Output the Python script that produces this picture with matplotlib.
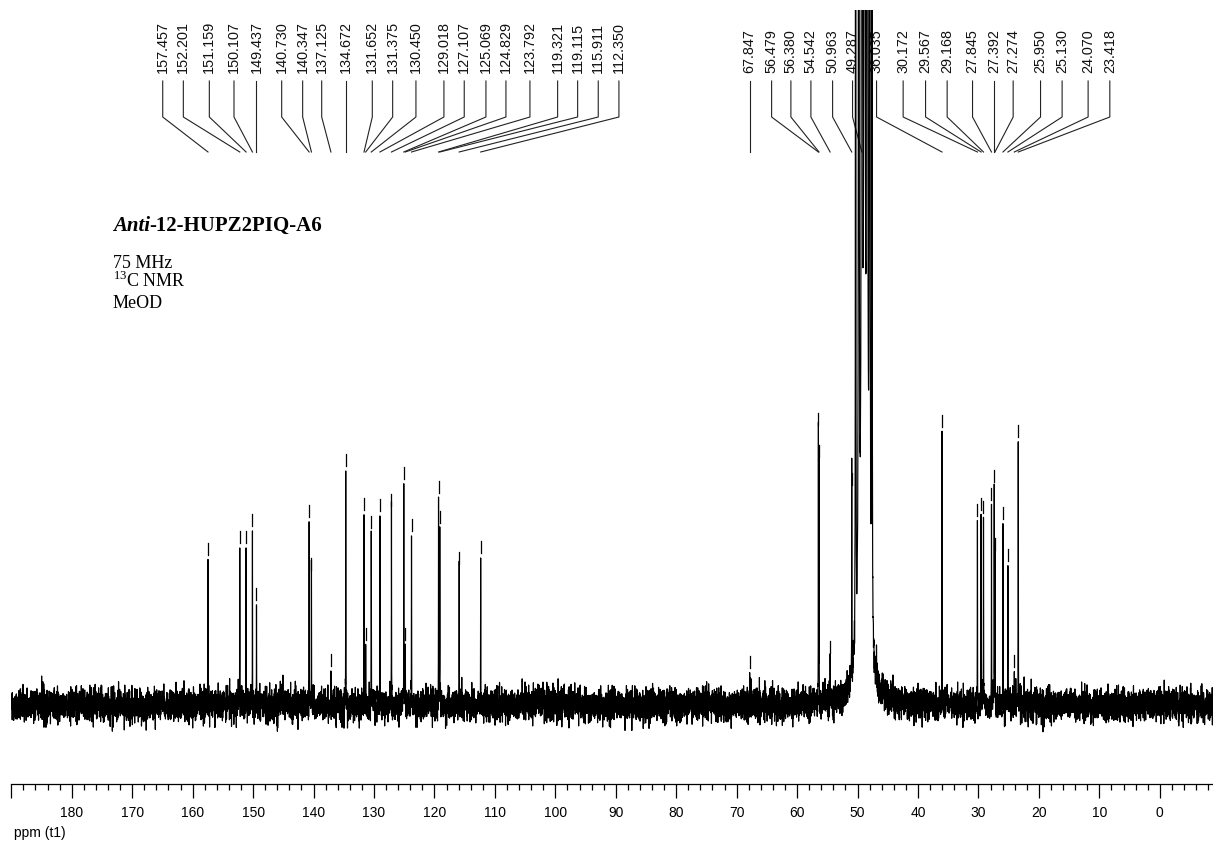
import numpy as np
import matplotlib.pyplot as plt
from matplotlib.ticker import MultipleLocator

plt.rcParams['font.family'] = ['Liberation Sans', 'DejaVu Sans']
plt.rcParams['mathtext.fontset'] = 'custom'
plt.rcParams['mathtext.rm'] = 'Liberation Serif'

# picked 13C shifts [ppm] and their heights above the baseline
shifts = [157.457, 152.201, 151.159, 150.107, 149.437, 140.730, 140.347, 137.125,
          134.672, 131.652, 131.375, 130.450, 129.018, 127.107, 125.069, 124.829,
          123.792, 119.321, 119.115, 115.911, 112.350,
          67.847, 56.479, 56.380, 54.542, 50.963, 36.035, 30.172, 29.567, 29.168,
          27.845, 27.392, 27.274, 25.950, 25.130, 24.070, 23.418]
heights = [145, 157, 157, 174, 100, 183, 130, 34,
           234, 190, 60, 172, 189, 194, 221, 60,
           169, 207, 177, 136, 147,
           32, 275, 243, 47, 215, 273, 184, 190, 187,
           200, 218, 150, 181, 139, 33, 263]

# MeOD solvent multiplet (off scale) and its broad foot
solvent_shifts = [50.32, 49.80, 49.287, 48.85, 48.42, 48.00, 47.62]
solvent_rel = [1, 3, 6, 7, 6, 3, 1]
solvent_scale = 8000
foot_center, foot_height, foot_width = 49.0, 100, 1.0

noise_sigma = 8.0

# where the peak labels sit along the top [ppm]
label_ppm = [164.95, 161.54, 157.24, 153.16, 149.437, 145.27, 141.80, 138.65, 134.672,
             130.28, 126.91, 123.06, 118.43, 115.07, 111.48, 108.17, 104.20, 99.62,
             96.31, 92.90, 89.48,
             67.847, 64.22, 61.03, 57.72, 54.13, 50.83, 46.86, 42.46, 38.75, 35.18,
             30.98, 27.392, 24.26, 19.73, 16.16, 11.86, 8.27]


def lorentz(x, x0, h, w):
    return h * w**2 / ((x - x0)**2 + w**2)


# build the trace
base = np.linspace(190.0, -8.8, 12000)
rng = np.random.default_rng(11)
noise = rng.normal(0, noise_sigma, base.size)
ppm = np.concatenate([base, shifts])
noise = np.concatenate([noise, np.zeros(len(shifts))])
order = np.argsort(ppm)[::-1]
ppm = ppm[order]
spec = noise[order]
for s, h in zip(shifts, heights):
    spec += lorentz(ppm, s, h, 0.015)
for s, r in zip(solvent_shifts, solvent_rel):
    spec += lorentz(ppm, s, r * solvent_scale, 0.012)
spec += lorentz(ppm, foot_center, foot_height, foot_width)

W, H = 1213, 842
fig = plt.figure(figsize=(W / 100, H / 100), dpi=100)
x0, x1 = 11.3, 1213
y_top, y_axis = 10, 784
ax = fig.add_axes([x0 / W, 1 - y_axis / H, (x1 - x0) / W, (y_axis - y_top) / H])

ax.plot(ppm, spec, color='black', lw=0.85, zorder=3)
ax.set_xlim(190, -8.8)
# y data are pixels above the baseline (baseline at 705 px)
ax.set_ylim(705 - y_axis, 705 - y_top)

for side in ['left', 'right', 'top']:
    ax.spines[side].set_visible(False)
ax.spines['bottom'].set_linewidth(0.9)
ax.set_yticks([])
major = np.arange(0, 191, 10)
ax.set_xticks(major)
ax.set_xticklabels(['' if t == 190 else str(t) for t in major])
ax.xaxis.set_minor_locator(MultipleLocator(2))
ax.tick_params(axis='x', which='major', length=10, width=0.9, pad=6, labelsize=10)
ax.tick_params(axis='x', which='minor', length=4.5, width=0.9)

# peak-pick markers above each peak
for s, h in zip(shifts, heights):
    ax.plot([s, s], [h + 5, h + 17], color='black', lw=0.9, zorder=3)

# peak labels with leader lines
picked = sorted(shifts + [solvent_shifts[2]], reverse=True)
for s, lp in zip(picked, label_ppm):
    ax.plot([lp, lp, s], [624, 588, 553], color='#222222', lw=0.8, zorder=2)
    ax.text(lp, 632, f'{s:.3f}', rotation=90, ha='center', va='bottom',
            fontsize=10.4, color='#111111', zorder=1)


def fx(x):
    return x / W


def fy(y):
    return 1 - y / H


t1 = fig.text(fx(112.7), fy(230.7), 'Anti', family='Liberation Serif',
              style='italic', weight='bold', fontsize=15, va='baseline')
ax.annotate('-12-HUPZ2PIQ-A6', xy=(1, 0), xycoords=t1, va='bottom',
            family='Liberation Serif', weight='bold', fontsize=15)
fig.text(fx(112.7), fy(268.3), '75 MHz', family='Liberation Serif', fontsize=13,
         va='baseline')
fig.text(fx(112.7), fy(287.3), r'$^{13}$C NMR', family='Liberation Serif',
         fontsize=13, va='baseline')
fig.text(fx(112.7), fy(308.3), 'MeOD', family='Liberation Serif', fontsize=13,
         va='baseline')

fig.text(fx(14), fy(836.5), 'ppm (t1)', fontsize=10, va='baseline')

fig.savefig('out.png', dpi=100)
